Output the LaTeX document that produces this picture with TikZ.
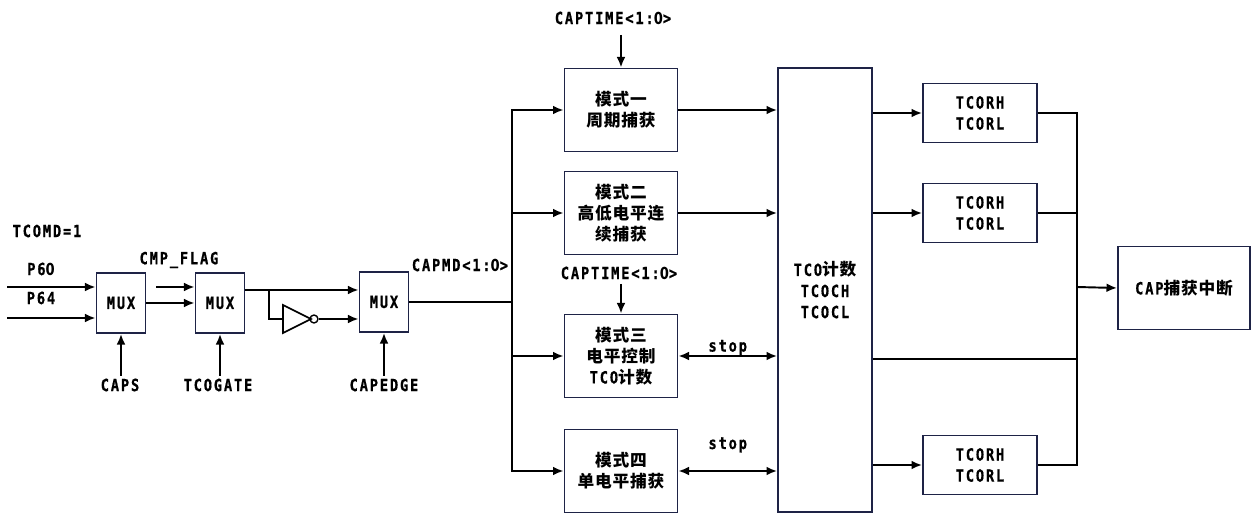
\documentclass[tikz,border=0pt]{standalone}
\usepackage{fontspec}
\newfontfamily\cjk[LetterSpace=5]{Noto Sans CJK SC}
\newfontfamily\lat[FakeStretch=0.82, LetterSpace=11, FakeBold=0.8]{DejaVu Sans Mono}
\newfontfamily\latzero[FakeStretch=0.9, LetterSpace=11]{Noto Sans CJK SC}
\newcommand\digitzero{{\latzero\bfseries 0}}
\usetikzlibrary{arrows.meta,calc}
\definecolor{boxline}{RGB}{30,35,70}
\tikzset{
    % Blocks
    block/.style={
        rectangle,
        draw=boxline,
        line width=1.1pt,
        inner sep=0pt,
        align=center,
        font=\cjk\bfseries\fontsize{9.5}{12}\selectfont
    },
    mux/.style={block, minimum width=0.98cm, minimum height=1.2cm},
    modebox/.style={block, minimum width=2.26cm, minimum height=1.66cm},
    regbox/.style={block, minimum width=2.28cm, minimum height=1.18cm},
    % Labels
    signal/.style={
        font=\lat\bfseries\fontsize{9.5}{12}\selectfont,
        inner sep=1pt
    },
    % Wires
    wire/.style={line width=1.1pt, draw=black},
    arrow/.style={wire, -{Latex[length=6pt,width=5pt]}},
    dblarrow/.style={wire, {Latex[length=6pt,width=5pt]}-{Latex[length=6pt,width=5pt]}}
}

\begin{document}
\begin{tikzpicture}[x=0.02cm, y=-0.02cm]
    \useasboundingbox (0,0) rectangle (1252,513);

    % Input selection
    \node[signal] (tcomd) at (47,231) {TCOMD=1};
    \node[signal] (p60) at (41,269) {P6\digitzero};
    \node[signal] (p64) at (41,298) {P64};
    \node[mux] (mux1) at (121,303) {\lat MUX};
    \node[signal] (caps) at (120,385) {CAPS};

    \node[signal] (cmpflag) at (179,260) {CMP\_FLAG};
    \node[mux] (mux2) at (220,303) {\lat MUX};
    \node[signal] (tcogate) at (218,385) {TCOGATE};

    \node[mux] (mux3) at (384,302) {\lat MUX};
    \node[signal] (capedge) at (384,385) {CAPEDGE};
    \node[signal] (capmd) at (460,265) {CAPMD<1:\digitzero>};

    % Capture modes
    \node[modebox] (mode1) at (621,110) {模式一\\周期捕获};
    \node[modebox] (mode2) at (621,213) {模式二\\高低电平连\\续捕获};
    \node[modebox] (mode3) at (621,356) {模式三\\电平控制\\{\lat TCO}计数};
    \node[modebox] (mode4) at (621,471) {模式四\\单电平捕获};
    \node[signal] (captime1) at (613,18) {CAPTIME<1:\digitzero>};
    \node[signal] (captime2) at (619,273) {CAPTIME<1:\digitzero>};

    % Counter and registers
    \node[block, minimum width=1.88cm, minimum height=8.88cm] (tco) at (825,290) {{\lat TCO}计数\\{\lat TCOCH}\\{\lat TCOCL}};
    \node[regbox] (reg1) at (980,113) {\lat TCORH\\\lat TCORL};
    \node[regbox] (reg2) at (980,213) {\lat TCORH\\\lat TCORL};
    \node[regbox] (reg3) at (980,465) {\lat TCORH\\\lat TCORL};
    \node[block, minimum width=2.64cm, minimum height=1.66cm] (capint) at (1184,288) {{\lat CAP}捕获中断};

    % Free ends and junctions
    \coordinate (p60in) at (7,287);
    \coordinate (p64in) at (7,318);
    \coordinate (cmpin) at (156,287);
    \coordinate (capsin) at (121,376);
    \coordinate (gatein) at (220,376);
    \coordinate (edgein) at (384,376);
    \coordinate (split) at (269,290);
    \coordinate (invin) at (283,319);
    \coordinate (bus) at (512,302);
    \coordinate (time1in) at (621,35);
    \coordinate (time2in) at (621,284);
    \coordinate (join) at (1077,287);
    \coordinate (tap) at (1077,359);

    % Inverter
    \draw[wire, line width=0.9pt] (invin) ++(0,-14) -- ++(28,14) -- ++(-28,14) -- cycle;
    \node[circle, draw, line width=0.8pt, inner sep=1.6pt] (bubble) at (314,319) {};

    % Arrows - inputs
    \draw[arrow] (p60in) -- (p60in -| mux1.west);
    \draw[arrow] (p64in) -- (p64in -| mux1.west);
    \draw[arrow] (capsin) -- (mux1.south);
    \draw[arrow] (mux1.east) -- (mux2.west);
    \draw[arrow] (cmpin) -- (cmpin -| mux2.west);
    \draw[arrow] (gatein) -- (mux2.south);
    \draw[arrow] (split -| mux2.east) -- (split -| mux3.west);
    \draw[wire] (split) |- (invin);
    \draw[arrow] (bubble.east) -- (bubble.east -| mux3.west);
    \draw[arrow] (edgein) -- (mux3.south);

    % Mode bus
    \draw[wire] (mux3.east) -- (bus);
    \draw[arrow] (bus) |- (mode1.west);
    \draw[arrow] (bus) |- (mode2.west);
    \draw[arrow] (bus) |- (mode3.west);
    \draw[arrow] (bus) |- (mode4.west);
    \draw[arrow] (time1in) -- (mode1.north);
    \draw[arrow] (time2in) -- (mode3.north);

    % Modes to counter
    \draw[arrow] (mode1.east) -- (mode1.east -| tco.west);
    \draw[arrow] (mode2.east) -- (mode2.east -| tco.west);
    \draw[dblarrow] (mode3.east) -- node[signal, above=-1pt] (stop1) {stop} (mode3.east -| tco.west);
    \draw[dblarrow] (mode4.east) -- node[signal, above=9pt] (stop2) {stop} (mode4.east -| tco.west);

    % Counter to registers
    \draw[arrow] (reg1.west -| tco.east) -- (reg1.west);
    \draw[arrow] (reg2.west -| tco.east) -- (reg2.west);
    \draw[arrow] (reg3.west -| tco.east) -- (reg3.west);
    \draw[wire] (tap -| tco.east) -- (tap);
    \draw[wire] (reg1.east) -| (join);
    \draw[wire] (reg2.east) -| (join);
    \draw[wire] (reg3.east) -| (join);
    \draw[arrow] (join) -- (capint.west);

\end{tikzpicture}
\end{document}
